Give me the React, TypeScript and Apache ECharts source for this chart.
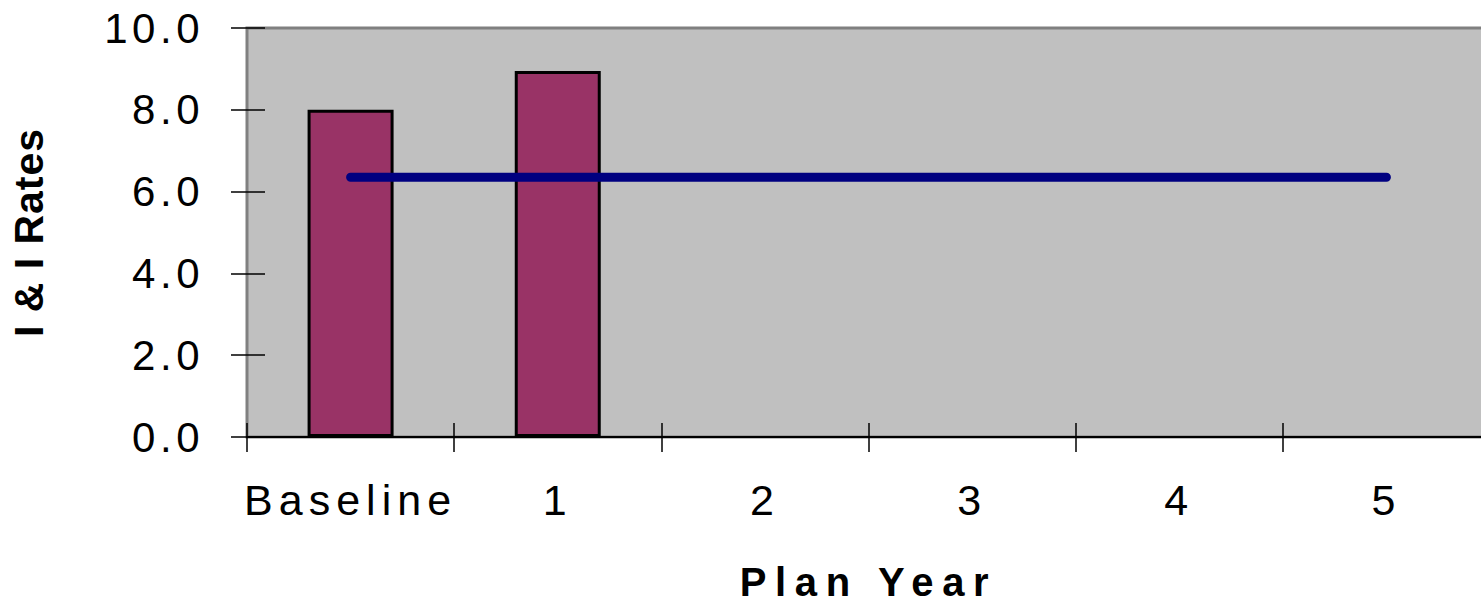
import React, { useEffect, useRef } from "react";
import * as echarts from "echarts";

const categories = ["Baseline", "1", "2", "3", "4", "5"];
const rateValues = [8.0, 8.95, null, null, null, null];
const targetValues = [6.35, 6.35, 6.35, 6.35, 6.35, 6.35];
const yTicks = [0, 2, 4, 6, 8, 10];

const FONT = "'Liberation Sans', Arial, sans-serif";

export default function App() {
  const ref = useRef<HTMLDivElement>(null);

  useEffect(() => {
    if (!ref.current) return;
    const chart = echarts.init(ref.current, undefined, { renderer: "svg" });
    const yMin = yTicks[0];
    const yMax = yTicks[yTicks.length - 1];
    const yInt = yTicks[1] - yTicks[0];
    chart.setOption({
      animation: false,
      grid: {
        left: 247,
        top: 28,
        right: 10,
        bottom: 167,
        containLabel: false,
        outerBoundsMode: "none",
        show: true,
        backgroundColor: "#c0c0c0",
        borderColor: "#808080",
        borderWidth: 3,
      },
      xAxis: [
        {
          type: "category",
          data: categories,
          boundaryGap: true,
          axisLine: { show: true, lineStyle: { color: "#000", width: 2 } },
          axisTick: { show: true, interval: 0, inside: false, length: 15, lineStyle: { color: "#000", width: 1.5 } },
          axisLabel: { interval: 0, color: "#000", fontSize: 43, fontFamily: FONT, margin: 41 },
          name: "Plan Year",
          nameLocation: "middle",
          nameGap: 125,
          nameTextStyle: { color: "#000", fontSize: 40, fontWeight: "bold", fontFamily: FONT },
        },
        {
          type: "category",
          data: categories,
          position: "bottom",
          boundaryGap: true,
          axisLine: { show: false },
          axisTick: { show: true, interval: 0, inside: true, length: 14, lineStyle: { color: "#000", width: 1.5 } },
          axisLabel: { show: false },
        },
      ],
      yAxis: [
        {
          type: "value",
          min: yMin,
          max: yMax,
          interval: yInt,
          axisLine: { show: true, lineStyle: { color: "#808080", width: 2 } },
          axisTick: { show: true, inside: false, length: 16, lineStyle: { color: "#000", width: 1.5 } },
          splitLine: { show: false },
          axisLabel: {
            color: "#000",
            fontSize: 42,
            fontFamily: FONT,
            margin: 43,
            formatter: (v: number) => v.toFixed(1),
          },
          name: "I & I Rates",
          nameLocation: "middle",
          nameRotate: 90,
          nameGap: 198,
          nameTextStyle: { color: "#000", fontSize: 41, fontWeight: "bold", fontFamily: FONT },
        },
        {
          type: "value",
          min: yMin,
          max: yMax,
          interval: yInt,
          position: "left",
          axisLine: { show: false },
          axisTick: { show: true, inside: true, length: 18, lineStyle: { color: "#000", width: 1.5 } },
          splitLine: { show: false },
          axisLabel: { show: false },
        },
      ],
      series: [
        {
          type: "bar",
          data: rateValues,
          barWidth: 86,
          itemStyle: { color: "#993366", borderColor: "#000", borderWidth: 3 },
        },
        {
          type: "line",
          data: targetValues,
          symbol: "none",
          lineStyle: { color: "#000080", width: 9, cap: "round" },
          z: 5,
        },
      ],
    });

    const yLabelSet = new Set(yTicks.map((v) => v.toFixed(1)));
    const applySpacing = () => {
      const dom = ref.current;
      if (!dom) return;
      dom.querySelectorAll("text").forEach((t) => {
        const s = (t.textContent || "").trim();
        let ls = "6px";
        if (s === "Plan Year") ls = "8.7px";
        else if (s === "I & I Rates") ls = "1px";
        else if (yLabelSet.has(s)) ls = "4.5px";
        (t as SVGTextElement).style.letterSpacing = ls;
      });
    };
    applySpacing();
    chart.on("finished", applySpacing);

    return () => {
      chart.dispose();
    };
  }, []);

  return (
    <div
      style={{
        position: "fixed",
        left: 0,
        top: 0,
        width: 1481,
        height: 604,
        overflow: "hidden",
        background: "#fff",
      }}
    >
      <div ref={ref} style={{ width: 1500, height: 604 }} />
    </div>
  );
}
